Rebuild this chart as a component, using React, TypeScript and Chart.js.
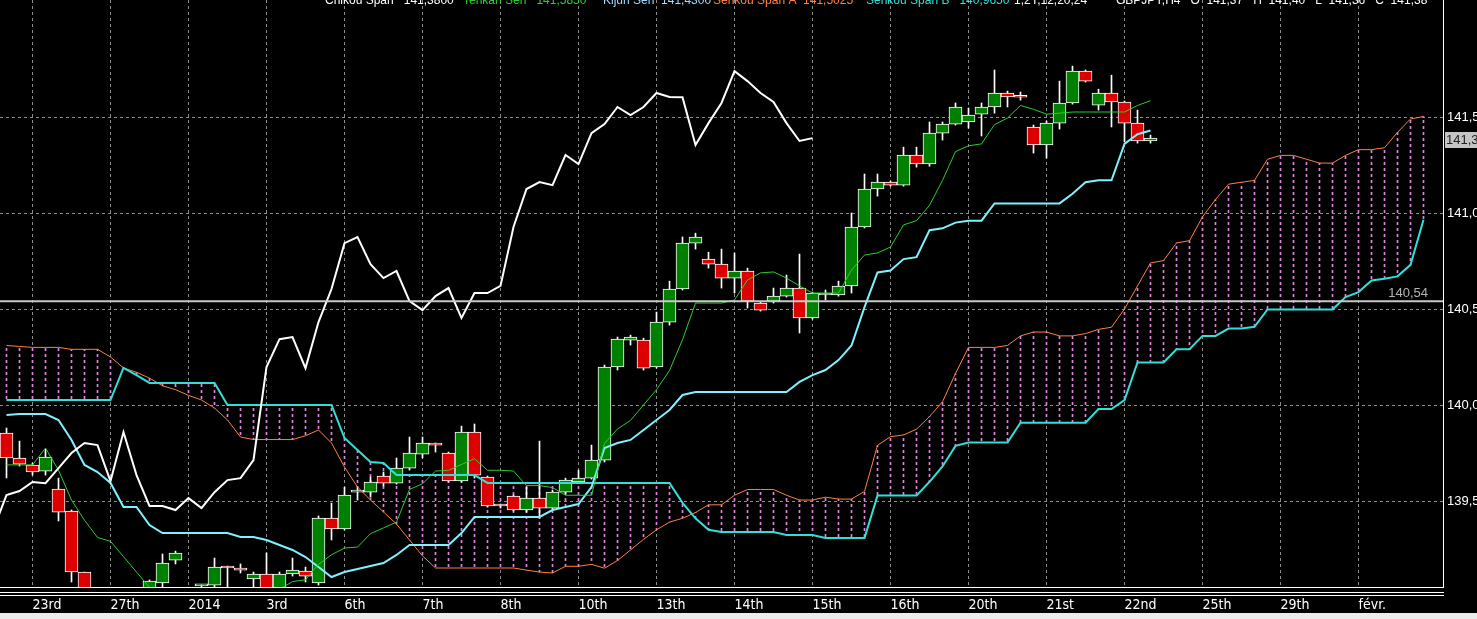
import React, { useEffect, useRef } from 'react';
import { Chart, registerables } from 'chart.js';

Chart.register(...registerables);

// ---------- data ----------
const FIRST_BAR = -2; // index of first bar in the arrays below
const CHIKOU_SHIFT = 26;

const opens = [
  139.854, 139.724, 139.687, 139.656, 139.562, 139.448, 139.130, 138.980, 138.900, 138.950,
  138.920, 138.990, 139.073, 139.192, 139.000, 139.058, 139.062, 139.156, 139.151, 139.094,
  139.120, 139.036, 139.120, 139.135, 139.073, 139.411, 139.354, 139.546, 139.546, 139.630,
  139.593, 139.671, 139.744, 139.802, 139.750, 139.604, 139.859, 139.625, 139.479, 139.526,
  139.453, 139.515, 139.463, 139.546, 139.599, 139.619, 139.713, 140.198, 140.338, 140.338,
  140.198, 140.432, 140.604, 140.843, 140.760, 140.734, 140.661, 140.698, 140.531, 140.541,
  140.567, 140.609, 140.453, 140.573, 140.573, 140.620, 140.927, 141.125, 141.161, 141.145,
  141.302, 141.255, 141.416, 141.463, 141.474, 141.515, 141.552, 141.625, 141.604, 141.448,
  141.354, 141.468, 141.573, 141.739, 141.562, 141.625, 141.578, 141.468, 141.375,
];
const highs = [
  139.880, 139.812, 139.698, 139.770, 139.619, 139.453, 139.130, 139.020, 138.990, 139.000,
  139.010, 139.089, 139.224, 139.239, 139.030, 139.066, 139.203, 139.161, 139.172, 139.130,
  139.229, 139.130, 139.203, 139.156, 139.422, 139.489, 139.572, 139.572, 139.625, 139.651,
  139.724, 139.833, 139.833, 139.802, 139.755, 139.890, 139.901, 139.630, 139.484, 139.531,
  139.572, 139.812, 139.557, 139.619, 139.661, 139.791, 140.208, 140.354, 140.364, 140.348,
  140.484, 140.645, 140.875, 140.895, 140.796, 140.812, 140.791, 140.713, 140.536, 140.609,
  140.677, 140.786, 140.588, 140.599, 140.645, 141.000, 141.203, 141.203, 141.166, 141.343,
  141.343, 141.474, 141.474, 141.573, 141.547, 141.573, 141.745, 141.635, 141.630, 141.458,
  141.479, 141.687, 141.765, 141.745, 141.645, 141.718, 141.583, 141.536, 141.406,
];
const lows = [
  139.620, 139.682, 139.635, 139.635, 139.396, 139.078, 138.958, 138.850, 138.820, 138.860,
  138.880, 138.974, 139.047, 139.172, 138.920, 139.000, 139.052, 139.052, 139.125, 139.052,
  139.010, 139.026, 139.109, 139.078, 139.062, 139.297, 139.349, 139.505, 139.520, 139.578,
  139.588, 139.661, 139.724, 139.755, 139.599, 139.599, 139.619, 139.468, 139.463, 139.448,
  139.442, 139.411, 139.453, 139.536, 139.593, 139.614, 139.703, 140.182, 140.312, 140.182,
  140.192, 140.416, 140.599, 140.812, 140.713, 140.609, 140.583, 140.505, 140.489, 140.531,
  140.562, 140.375, 140.447, 140.547, 140.567, 140.583, 140.922, 141.088, 141.140, 141.140,
  141.239, 141.244, 141.380, 141.458, 141.442, 141.401, 141.520, 141.552, 141.588, 141.312,
  141.286, 141.437, 141.567, 141.682, 141.536, 141.448, 141.370, 141.364, 141.364,
];
const closes = [
  139.724, 139.692, 139.651, 139.729, 139.442, 139.130, 138.984, 138.900, 138.950, 138.920,
  138.990, 139.083, 139.177, 139.229, 138.980, 139.062, 139.156, 139.151, 139.140, 139.120,
  139.026, 139.120, 139.140, 139.109, 139.411, 139.354, 139.531, 139.552, 139.599, 139.593,
  139.671, 139.750, 139.802, 139.791, 139.604, 139.859, 139.635, 139.474, 139.474, 139.453,
  139.515, 139.463, 139.546, 139.609, 139.619, 139.713, 140.198, 140.343, 140.354, 140.192,
  140.432, 140.604, 140.843, 140.875, 140.734, 140.661, 140.698, 140.541, 140.494, 140.567,
  140.609, 140.453, 140.583, 140.583, 140.620, 140.927, 141.125, 141.161, 141.145, 141.302,
  141.255, 141.416, 141.463, 141.552, 141.510, 141.552, 141.625, 141.604, 141.603, 141.354,
  141.468, 141.573, 141.739, 141.687, 141.625, 141.578, 141.468, 141.375, 141.390,
];
const tenkan = [
  139.688, 139.688, 139.688, 139.776, 139.660, 139.505, 139.400, 139.310, 139.290, 139.210,
  139.130, 139.050, 138.980, 138.970, 138.960, 138.960, 138.960, 138.970, 138.980, 139.000,
  139.020, 139.040, 139.080, 139.090, 139.170, 139.220, 139.255, 139.260, 139.330, 139.360,
  139.390, 139.560, 139.590, 139.656, 139.660, 139.690, 139.720, 139.660, 139.660, 139.656,
  139.580, 139.580, 139.570, 139.530, 139.530, 139.530, 139.800, 139.875, 139.920, 140.000,
  140.080, 140.180, 140.340, 140.531, 140.531, 140.531, 140.547, 140.651, 140.688, 140.693,
  140.661, 140.620, 140.583, 140.583, 140.583, 140.703, 140.781, 140.792, 140.823, 140.938,
  140.960, 141.040, 141.170, 141.320, 141.350, 141.360, 141.460, 141.495, 141.560, 141.540,
  141.515, 141.520, 141.526, 141.526, 141.526, 141.526, 141.526, 141.560, 141.585,
];
const kijun = [
  139.948, 139.953, 139.953, 139.953, 139.922, 139.818, 139.688, 139.651, 139.594, 139.469,
  139.469, 139.375, 139.333, 139.333, 139.333, 139.333, 139.333, 139.333, 139.313, 139.313,
  139.297, 139.271, 139.245, 139.208, 139.156, 139.104, 139.130, 139.146, 139.161, 139.177,
  139.219, 139.271, 139.271, 139.271, 139.271, 139.333, 139.417, 139.417, 139.417, 139.417,
  139.417, 139.417, 139.453, 139.469, 139.484, 139.573, 139.776, 139.802, 139.818, 139.870,
  139.922, 139.974, 140.052, 140.068, 140.068, 140.068, 140.068, 140.068, 140.068, 140.068,
  140.068, 140.120, 140.156, 140.182, 140.234, 140.310, 140.510, 140.690, 140.700, 140.760,
  140.770, 140.910, 140.920, 140.950, 140.960, 140.960, 141.050, 141.050, 141.050, 141.050,
  141.050, 141.050, 141.100, 141.160, 141.170, 141.170, 141.360, 141.410, 141.430,
];
const senkouA = [
  140.310, 140.305, 140.300, 140.300, 140.300, 140.290, 140.290, 140.290, 140.250, 140.193,
  140.170, 140.140, 140.100, 140.080, 140.050, 140.026, 139.984, 139.922, 139.833, 139.820,
  139.820, 139.820, 139.820, 139.840, 139.870, 139.802, 139.677, 139.573, 139.505, 139.443,
  139.380, 139.297, 139.214, 139.151, 139.151, 139.151, 139.151, 139.151, 139.151, 139.151,
  139.140, 139.130, 139.125, 139.160, 139.160, 139.170, 139.150, 139.190, 139.245, 139.300,
  139.350, 139.390, 139.410, 139.440, 139.480, 139.480, 139.530, 139.560, 139.560, 139.560,
  139.530, 139.505, 139.505, 139.520, 139.510, 139.510, 139.550, 139.790, 139.835, 139.844,
  139.874, 139.940, 140.017, 140.164, 140.300, 140.300, 140.300, 140.310, 140.360, 140.380,
  140.380, 140.360, 140.360, 140.372, 140.394, 140.405, 140.500, 140.620, 140.740, 140.752,
  140.844, 140.856, 140.980, 141.070, 141.150, 141.160, 141.170, 141.280, 141.300, 141.300,
  141.280, 141.260, 141.260, 141.300, 141.330, 141.330, 141.340, 141.420, 141.490, 141.5025,
];
const senkouB = [
  140.026, 140.026, 140.026, 140.026, 140.026, 140.026, 140.026, 140.026, 140.026, 140.193,
  140.156, 140.115, 140.115, 140.115, 140.115, 140.115, 140.115, 140.000, 140.000, 140.000,
  140.000, 140.000, 140.000, 140.000, 140.000, 140.000, 139.828, 139.766, 139.703, 139.698,
  139.635, 139.635, 139.635, 139.635, 139.635, 139.635, 139.635, 139.594, 139.594, 139.594,
  139.594, 139.594, 139.594, 139.594, 139.594, 139.594, 139.594, 139.594, 139.594, 139.594,
  139.594, 139.594, 139.490, 139.410, 139.350, 139.339, 139.339, 139.339, 139.339, 139.339,
  139.323, 139.323, 139.323, 139.307, 139.307, 139.307, 139.307, 139.528, 139.528, 139.528,
  139.528, 139.600, 139.680, 139.787, 139.805, 139.805, 139.805, 139.805, 139.908, 139.908,
  139.908, 139.908, 139.908, 139.908, 139.979, 139.979, 140.026, 140.222, 140.222, 140.222,
  140.290, 140.290, 140.360, 140.360, 140.398, 140.398, 140.407, 140.498, 140.498, 140.498,
  140.498, 140.498, 140.498, 140.562, 140.588, 140.649, 140.657, 140.670, 140.730, 140.965,
];

const xTickBars = [0, 6, 12, 18, 24, 30, 36, 42, 48, 54, 60, 66, 72, 78, 84, 90, 96, 102];
const xTickLabels = ['23rd', '27th', '2014', '3rd', '6th', '7th', '8th', '10th', '13th', '14th',
  '15th', '16th', '20th', '21st', '22nd', '25th', '29th', 'févr.'];
const yTickValues = [139.5, 140.0, 140.5, 141.0, 141.5];
const levelLine = 140.54;
const lastPrice = 141.38;

const legendTexts = [
  'Chikou Span   141,3800', 'Tenkan Sen   141,5850', 'Kijun Sen  141,4300',
  'Senkou Span A  141,5025', 'Senkou Span B   140,9650', '1,2Y,12,20,24',
  'GBPJPY,H4   O  141,37   H  141,40   L  141,36   C  141,38',
];

// ---------- layout / style ----------
const W = 1477;
const H = 619;
const BAR_PX = 13;
const FIRST_BAR_PX = 32.5; // pixel of bar 0
const PLOT_RIGHT = 1443;
const PLOT_BOTTOM = 587;
const X_MIN = -FIRST_BAR_PX / BAR_PX;
const X_MAX = X_MIN + PLOT_RIGHT / BAR_PX;
const PX_PER_UNIT = 192;
const Y_MAX = 141.5 + 117 / PX_PER_UNIT;
const Y_MIN = Y_MAX - PLOT_BOTTOM / PX_PER_UNIT;
const legendX = [325, 463, 603, 713, 866, 1014, 1116];
const legendColors = ['#ffffff', '#33cc33', '#9fdcff', '#ff8040', '#30e0d8', '#ffffff', '#ffffff'];

const GREEN = '#008000';
const RED = '#dd0000';
const GRID = '#8c8c8c';
const NARROW = '"Liberation Sans Narrow", "DejaVu Sans Condensed", "Liberation Sans", sans-serif';
const SANS = '"Liberation Sans", Arial, sans-serif';

const fmt = (v: number, d: number) => v.toFixed(d).replace('.', ',');

const decorPlugin = {
  id: 'decor',
  beforeDraw(chart: any) {
    const { ctx } = chart;
    ctx.save();
    ctx.fillStyle = '#000';
    ctx.fillRect(0, 0, chart.width, chart.height);
    ctx.restore();
  },
  afterDraw(chart: any) {
    const { ctx, chartArea } = chart;
    const y = chart.scales.y;
    ctx.save();
    // legend (cut off at the top)
    ctx.font = '12px ' + SANS;
    ctx.textBaseline = 'alphabetic';
    ctx.textAlign = 'left';
    legendTexts.forEach((t, i) => {
      ctx.fillStyle = legendColors[i];
      ctx.fillText(t, legendX[i], 4);
    });
    // double lines under the plot
    ctx.strokeStyle = '#ffffff';
    ctx.lineWidth = 1;
    [5.5, 8.5].forEach((d) => {
      ctx.beginPath();
      ctx.moveTo(0, chartArea.bottom + d);
      ctx.lineTo(chartArea.right + 1, chartArea.bottom + d);
      ctx.stroke();
    });
    // grey strip at the bottom
    ctx.fillStyle = '#ececec';
    ctx.fillRect(0, 613, chart.width, chart.height - 613);
    // last price box
    const py = Math.round(y.getPixelForValue(lastPrice));
    ctx.fillStyle = '#c4c4c4';
    ctx.fillRect(chartArea.right + 2, py - 8, chart.width, 16);
    ctx.fillStyle = '#202020';
    ctx.font = '13px ' + SANS;
    ctx.textBaseline = 'middle';
    ctx.fillText(fmt(lastPrice, 2), chartArea.right + 3, py);
    // level label
    const hy = y.getPixelForValue(levelLine);
    ctx.fillStyle = '#b4b4b4';
    ctx.font = '13px ' + SANS;
    ctx.textAlign = 'right';
    ctx.textBaseline = 'bottom';
    ctx.fillText(fmt(levelLine, 2), chartArea.right - 15, hy - 1);
    ctx.restore();
  },
};

export default function App() {
  const ref = useRef<HTMLCanvasElement | null>(null);

  useEffect(() => {
    const canvas = ref.current;
    if (!canvas) return;
    const ctx = canvas.getContext('2d')!;

    const pc = document.createElement('canvas');
    pc.width = 1;
    pc.height = 6;
    const pctx = pc.getContext('2d')!;
    pctx.fillStyle = 'rgb(220,135,220)';
    pctx.fillRect(0, 0, 1, 3);
    const cloudPattern = ctx.createPattern(pc, 'repeat');

    const bar = (i: number) => FIRST_BAR + i;
    const cloud = senkouA.map((a, i) => ({ x: bar(i), y: [Math.min(a, senkouB[i]), Math.max(a, senkouB[i])] }));
    const wicks = lows.map((l, i) => ({ x: bar(i), y: [l, highs[i]] }));
    const bodies = opens.map((o, i) => ({ x: bar(i), y: [o, closes[i]] }));
    const bodyColors = opens.map((o, i) => (closes[i] >= o ? GREEN : RED));
    const line = (arr: number[]) => arr.map((v, i) => ({ x: bar(i), y: v }));
    const chikou = closes.map((c, i) => ({ x: bar(i) - CHIKOU_SHIFT, y: c }));

    const lineBase = { type: 'line', pointRadius: 0, tension: 0, fill: false, clip: 0, borderJoinStyle: 'miter' };

    const chart = new Chart(ctx, {
      type: 'bar',
      data: {
        datasets: [
          { type: 'bar', data: cloud, backgroundColor: cloudPattern, barThickness: 1, grouped: false, borderWidth: 0, order: 10, clip: 0 },
          { type: 'bar', data: wicks, backgroundColor: '#ffffff', barThickness: 1, grouped: false, borderWidth: 0, order: 9, clip: 0 },
          { type: 'bar', data: bodies, backgroundColor: bodyColors, borderColor: '#ffffff', borderWidth: 1, borderSkipped: false, barThickness: 13, minBarLength: 2, grouped: false, order: 8, clip: 0 },
          { ...lineBase, data: line(senkouA), borderColor: '#ff8040', borderWidth: 1, order: 6 },
          { ...lineBase, data: line(senkouB), borderColor: '#30e0d8', borderWidth: 2, order: 5 },
          { ...lineBase, data: line(kijun), borderColor: '#80f0ff', borderWidth: 2, order: 4 },
          { ...lineBase, data: line(tenkan), borderColor: '#2ecc2e', borderWidth: 1, order: 3 },
          { ...lineBase, data: chikou, borderColor: '#ffffff', borderWidth: 2, order: 2 },
          { ...lineBase, data: [{ x: X_MIN, y: levelLine }, { x: X_MAX, y: levelLine }], borderColor: '#c8c8c8', borderWidth: 2, order: 1 },
        ] as any,
      },
      options: {
        animation: false,
        responsive: true,
        maintainAspectRatio: false,
        events: [],
        layout: { padding: 0 },
        plugins: { legend: { display: false }, tooltip: { enabled: false }, title: { display: false } },
        scales: {
          x: {
            type: 'linear',
            position: 'bottom',
            min: X_MIN,
            max: X_MAX,
            offset: false,
            bounds: 'data',
            afterBuildTicks: (s: any) => { s.ticks = xTickBars.map((v) => ({ value: v })); },
            afterFit: (s: any) => { s.height = H - PLOT_BOTTOM; s.paddingLeft = 0; s.paddingRight = 0; },
            ticks: {
              autoSkip: false, maxRotation: 0, minRotation: 0, align: 'start', padding: 10,
              color: '#ffffff', font: { family: NARROW, size: 14 },
              callback: (_v: any, i: number) => xTickLabels[i],
            },
            grid: { color: GRID, lineWidth: 1, drawTicks: false, offset: false },
            border: { display: true, color: '#ffffff', width: 1, dash: [3, 3] },
          },
          y: {
            type: 'linear',
            position: 'right',
            min: Y_MIN,
            max: Y_MAX,
            beginAtZero: false,
            bounds: 'data',
            afterBuildTicks: (s: any) => { s.ticks = yTickValues.map((v) => ({ value: v })); },
            afterFit: (s: any) => { s.width = W - PLOT_RIGHT; s.paddingTop = 0; s.paddingBottom = 0; },
            ticks: {
              padding: 4, color: '#ffffff', font: { family: SANS, size: 13 },
              callback: (v: any) => fmt(Number(v), 1),
            },
            grid: { color: GRID, lineWidth: 1, drawTicks: false },
            border: { display: true, color: '#ffffff', width: 1, dash: [3, 3] },
          },
        },
      } as any,
      plugins: [decorPlugin],
    });

    return () => chart.destroy();
  }, []);

  return (
    <div style={{ position: 'fixed', left: 0, top: 0, width: W, height: H, background: '#000' }}>
      <canvas ref={ref} />
    </div>
  );
}
